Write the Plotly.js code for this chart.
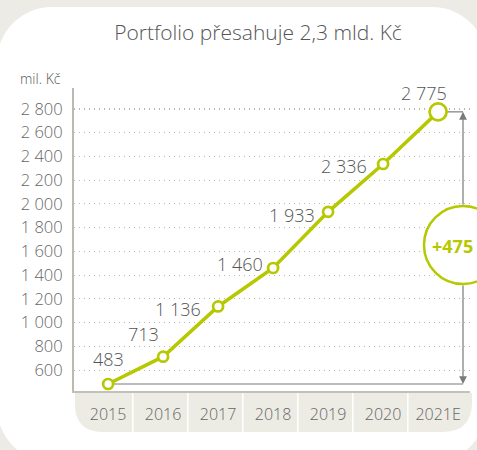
<!DOCTYPE html>
<html>
<head>
<meta charset="utf-8">
<script src="https://cdn.plot.ly/plotly-3.0.1.min.js"></script>
<style>
  html, body { margin: 0; padding: 0; width: 477px; height: 450px; overflow: hidden; background: #ecebe5; }
  #card { position: absolute; left: -3px; top: 7px; width: 490px; height: 455px; border-radius: 55px; background: #ffffff; }
  #chart { position: absolute; left: 0; top: 0; width: 477px; height: 450px; }
</style>
</head>
<body>
<div id="card"></div>
<div id="chart"></div>
<script>
// ---- data ----
const years = ['2015', '2016', '2017', '2018', '2019', '2020', '2021E'];
const values = [483, 713, 1136, 1460, 1933, 2336, 2775];
const yTicks = [600, 800, 1000, 1200, 1400, 1600, 1800, 2000, 2200, 2400, 2600, 2800];
const deltaLabel = '+475';
const titleText = 'Portfolio přesahuje 2,3 mld. Kč';
const unitText = 'mil. Kč';

// ---- style ----
const lime = '#b5c800';
const W = 477, H = 450;
const M = { l: 74, r: 7, t: 88, b: 59 };
const PW = W - M.l - M.r, PH = H - M.t - M.b;
const xr = [-0.62, 6.58];
const yr = [424, 2976];
const labelOffsets = [[0, 25], [-20, 23], [-40, -3], [-33, 4], [-36, -3], [-39, -2], [-14, 19]];

const fmt = v => String(v).replace(/\B(?=(\d{3})+(?!\d))/g, ' ');
const pxToPaperX = px => (px - M.l) / PW;
const pxToPaperY = py => (M.t + PH - py) / PH;
const catToPaper = c => (c - xr[0]) / (xr[1] - xr[0]);
const pxToVal = py => yr[0] + (M.t + PH - py) / PH * (yr[1] - yr[0]);
const pxToCat = px => xr[0] + (px - M.l) / PW * (xr[1] - xr[0]);

const trace = {
  type: 'scatter', mode: 'lines+markers',
  x: years, y: values,
  line: { color: lime, width: 3.5 },
  marker: { symbol: 'circle', color: '#ffffff', opacity: 1, size: [10, 10, 10, 10, 10, 10, 17], line: { color: lime, width: 2.7 } },
  hoverinfo: 'skip', cliponaxis: false
};

const font = { family: 'Open Sans, sans-serif', color: '#5a5a5a', weight: 300 };

// category positions are addressed by index (numeric-looking names would be read as serials)
const annotations = values.map((v, i) => ({
  x: i, y: v, xref: 'x', yref: 'y', text: fmt(v), showarrow: false,
  xshift: labelOffsets[i][0], yshift: labelOffsets[i][1],
  xanchor: 'center', yanchor: 'middle',
  font: Object.assign({}, font, { size: 18, color: '#555555' })
}));

const last = values.length - 1;
const bracketX = pxToCat(463);
const circleTopVal = pxToVal(206);
const circleBotVal = pxToVal(284);

annotations.push(
  { x: bracketX, y: values[last], ax: bracketX, ay: circleTopVal, xref: 'x', yref: 'y', axref: 'x', ayref: 'y',
    text: '', showarrow: true, arrowhead: 2, arrowsize: 1.3, arrowwidth: 1.2, arrowcolor: '#7a7a7a', standoff: 0 },
  { x: bracketX, y: values[0], ax: bracketX, ay: circleBotVal, xref: 'x', yref: 'y', axref: 'x', ayref: 'y',
    text: '', showarrow: true, arrowhead: 2, arrowsize: 1.3, arrowwidth: 1.2, arrowcolor: '#7a7a7a', standoff: 0 },
  { x: pxToPaperX(452), y: pxToPaperY(246), xref: 'paper', yref: 'paper', text: deltaLabel, showarrow: false,
    xanchor: 'center', yanchor: 'middle', font: { family: 'Open Sans, sans-serif', size: 18, color: lime, weight: 700 } },
  { x: pxToPaperX(40), y: pxToPaperY(78), xref: 'paper', yref: 'paper', text: unitText, showarrow: false,
    xanchor: 'center', yanchor: 'middle', font: Object.assign({}, font, { size: 14, color: '#555555' }) }
);

// band under x axis with rounded bottom corners
const bx0 = pxToPaperX(75), bx1 = pxToPaperX(472);
const by0 = pxToPaperY(393), by1 = pxToPaperY(432);
const rxL = 28 / PW, ryL = 28 / PH, rxR = 30 / PW, ryR = 30 / PH;
const bandPath = `M ${bx0} ${by0} L ${bx1} ${by0} L ${bx1} ${by1 + ryR} Q ${bx1} ${by1} ${bx1 - rxR} ${by1} ` +
  `L ${bx0 + rxL} ${by1} Q ${bx0} ${by1} ${bx0} ${by1 + ryL} Z`;

const shapes = [
  { type: 'path', xref: 'paper', yref: 'paper', path: bandPath, fillcolor: '#ecebe4', line: { width: 0 }, layer: 'below' },
];
for (let i = 0; i < years.length - 1; i++) {
  const sx = catToPaper(i + 0.45);
  shapes.push({ type: 'line', xref: 'paper', yref: 'paper', x0: sx, x1: sx, y0: by0, y1: by1,
    line: { color: '#ffffff', width: 1.5 }, layer: 'below' });
}
shapes.push(
  { type: 'line', xref: 'x', yref: 'y', x0: last, x1: bracketX, y0: values[last], y1: values[last],
    line: { color: '#7a7a7a', width: 1.2 }, layer: 'below' },
  { type: 'line', xref: 'x', yref: 'y', x0: 0, x1: bracketX, y0: values[0], y1: values[0],
    line: { color: '#7a7a7a', width: 1.2 }, layer: 'below' },
  { type: 'circle', xref: 'paper', yref: 'paper',
    x0: pxToPaperX(424), x1: pxToPaperX(502), y0: pxToPaperY(284), y1: pxToPaperY(206),
    fillcolor: '#ffffff', line: { color: lime, width: 2.5 }, layer: 'above' }
);

const layout = {
  width: W, height: H,
  margin: M,
  paper_bgcolor: 'rgba(0,0,0,0)', plot_bgcolor: 'rgba(0,0,0,0)',
  separators: ', ',
  showlegend: false,
  font: font,
  title: { text: titleText, x: 258 / W, xanchor: 'center', y: 1 - 33 / H, yanchor: 'middle',
    font: Object.assign({}, font, { size: 21, color: '#555555' }) },
  xaxis: {
    type: 'category', range: xr, fixedrange: true,
    showline: true, linecolor: '#c3c0b7', linewidth: 2,
    showgrid: false, zeroline: false, ticks: '',
    ticklabelstandoff: 8,
    tickfont: Object.assign({}, font, { size: 16, color: '#666666' })
  },
  yaxis: {
    range: yr, fixedrange: true,
    tickvals: yTicks, ticktext: yTicks.map(fmt),
    showline: true, linecolor: '#bcb9b0', linewidth: 2,
    showgrid: true, gridcolor: '#b9b6a9', gridwidth: 1.2, griddash: '1.3px,3.7px',
    zeroline: false, ticks: '', ticklabelstandoff: 6,
    tickfont: Object.assign({}, font, { size: 16.5, color: '#666666' })
  },
  shapes: shapes,
  annotations: annotations
};

Plotly.newPlot('chart', [trace], layout, { displayModeBar: false, staticPlot: true });
</script>
</body>
</html>
